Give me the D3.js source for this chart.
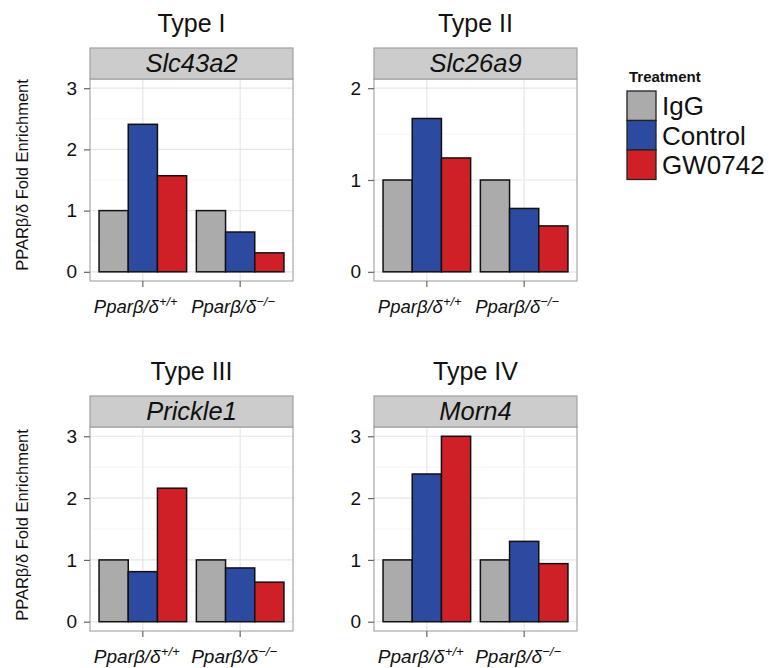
<!DOCTYPE html>
<html>
<head>
<meta charset="utf-8">
<script src="https://cdn.jsdelivr.net/npm/d3@7"></script>
<style>
  html, body { margin: 0; padding: 0; background: #fff; }
  svg { display: block; font-family: "Liberation Sans", Arial, Helvetica, sans-serif; }
</style>
</head>
<body>
<svg id="chart" width="769" height="668"></svg>
<script>
// ---------------- data ----------------
const panelTitles = ["Type I", "Type II", "Type III", "Type IV"];
const genes = ["Slc43a2", "Slc26a9", "Prickle1", "Morn4"];
const genotypeSup = ["+/+", "\u2212/\u2212"];      // Pparβ/δ superscripts
const treatments = ["IgG", "Control", "GW0742"];
// values: one row per genotype, columns = IgG, Control, GW0742
const slc43a2 = [[1, 2.41, 1.57], [1, 0.65, 0.31]];
const slc26a9 = [[1, 1.67, 1.24], [1, 0.69, 0.50]];
const prickle1 = [[1, 0.81, 2.16], [1, 0.87, 0.64]];
const morn4 = [[1, 2.39, 3.00], [1, 1.30, 0.94]];
const yTickValues = [[0, 1, 2, 3], [0, 1, 2], [0, 1, 2, 3], [0, 1, 2, 3]];
const yAxisTitle = "PPAR\u03b2/\u03b4 Fold Enrichment";
const legendTitle = "Treatment";
const colors = ["#ababab", "#2c4a9f", "#d02027"];

const geneValues = [slc43a2, slc26a9, prickle1, morn4];

// ---------------- layout ----------------
const colX = [[90, 293], [374, 577]];
const rows = [
  { stripTop: 48, panelTop: 79, panelBottom: 281, labelY: 313 , labelSize: 18.5},
  { stripTop: 396, panelTop: 427, panelBottom: 631, labelY: 663, labelSize: 19 }
];

const svg = d3.select("#chart");
const groups = ["wt", "ko"];

panelTitles.forEach((title, i) => {
  const col = i % 2, row = Math.floor(i / 2);
  const [x0L, x0R] = colX[col];
  const R = rows[row];
  const ticks = yTickValues[i];
  const maxT = d3.max(ticks);
  const expand = maxT * 0.05;

  const y = d3.scaleLinear().domain([-expand, maxT + expand]).range([R.panelBottom, R.panelTop]);
  const x0 = d3.scaleBand().domain(groups).range([x0L, x0R]).paddingInner(0.1).paddingOuter(0.093);
  const x1 = d3.scaleBand().domain(treatments).range([0, x0.bandwidth()]);

  const g = svg.append("g");

  // title
  g.append("text")
    .attr("x", (x0L + x0R) / 2).attr("y", R.stripTop - 16.5)
    .attr("text-anchor", "middle").attr("font-size", 25).attr("fill", "#111")
    .text(title);

  // panel background
  g.append("rect").attr("x", x0L).attr("y", R.panelTop)
    .attr("width", x0R - x0L).attr("height", R.panelBottom - R.panelTop).attr("fill", "#fff");

  // minor grid
  const minor = d3.range(0.5, maxT, 1);
  g.selectAll(".minor").data(minor).join("line")
    .attr("x1", x0L).attr("x2", x0R)
    .attr("y1", d => y(d)).attr("y2", d => y(d))
    .attr("stroke", "#f5f5f5").attr("stroke-width", 1);
  // major grid
  g.selectAll(".major").data(ticks).join("line")
    .attr("x1", x0L).attr("x2", x0R)
    .attr("y1", d => y(d)).attr("y2", d => y(d))
    .attr("stroke", "#e6e6e6").attr("stroke-width", 1.2);
  g.selectAll(".vmajor").data(groups).join("line")
    .attr("x1", d => x0(d) + x0.bandwidth() / 2).attr("x2", d => x0(d) + x0.bandwidth() / 2)
    .attr("y1", R.panelTop).attr("y2", R.panelBottom)
    .attr("stroke", "#e6e6e6").attr("stroke-width", 1.2);

  // bars
  const vals = geneValues[i];
  groups.forEach((gr, gi) => {
    g.selectAll(null).data(vals[gi]).join("rect")
      .attr("x", (d, k) => x0(gr) + x1(treatments[k]))
      .attr("width", x1.bandwidth())
      .attr("y", d => y(d))
      .attr("height", d => y(0) - y(d))
      .attr("fill", (d, k) => colors[k])
      .attr("stroke", "#111").attr("stroke-width", 1.5);
  });

  // panel border
  g.append("rect").attr("x", x0L).attr("y", R.panelTop)
    .attr("width", x0R - x0L).attr("height", R.panelBottom - R.panelTop)
    .attr("fill", "none").attr("stroke", "#a8a8a8").attr("stroke-width", 1.2);

  // strip
  g.append("rect").attr("x", x0L).attr("y", R.stripTop)
    .attr("width", x0R - x0L).attr("height", R.panelTop - R.stripTop)
    .attr("fill", "#cccccc").attr("stroke", "#a0a0a0").attr("stroke-width", 1.2);
  g.append("text")
    .attr("x", (x0L + x0R) / 2).attr("y", (R.stripTop + R.panelTop) / 2 + 8.5)
    .attr("text-anchor", "middle").attr("font-size", 25.5).attr("font-style", "italic")
    .attr("fill", "#111").text(genes[i]);

  // y axis
  const yAxis = g.append("g").attr("transform", `translate(${x0L},0)`)
    .call(d3.axisLeft(y).tickValues(ticks).tickFormat(d3.format("d")).tickSize(6).tickPadding(7));
  yAxis.select(".domain").remove();
  yAxis.selectAll(".tick line").attr("stroke", "#666").attr("stroke-width", 1.2);
  yAxis.selectAll(".tick text").attr("font-size", 19).attr("fill", "#111")
    .attr("font-family", "Liberation Sans, Arial, sans-serif");

  // x axis ticks
  const xAxis = g.append("g").attr("transform", `translate(0,${R.panelBottom})`)
    .call(d3.axisBottom(x0).tickSize(6).tickFormat(""));
  xAxis.select(".domain").remove();
  xAxis.selectAll(".tick line").attr("stroke", "#666").attr("stroke-width", 1.2);

  // x labels
  groups.forEach((gr, gi) => {
    const cx = x0(gr) + x0.bandwidth() / 2;
    const t = g.append("text")
      .attr("x", cx - 49).attr("y", R.labelY)
      .attr("font-size", R.labelSize).attr("font-style", "italic").attr("fill", "#111");
    t.append("tspan").text("Ppar\u03b2/\u03b4");
    t.append("tspan").attr("dy", -7).attr("font-size", R.labelSize * 0.7).text(genotypeSup[gi]);
  });

  // y axis title (left column only)
  if (col === 0) {
    const cy = row === 0 ? 175 : 525;
    svg.append("text")
      .attr("transform", `translate(28,${cy}) rotate(-90)`)
      .attr("text-anchor", "middle").attr("font-size", 16.5).attr("fill", "#111")
      .text(yAxisTitle);
  }
});

// ---------------- legend ----------------
const leg = svg.append("g");
leg.append("text").attr("x", 629).attr("y", 81.5)
  .attr("font-size", 15).attr("font-weight", "bold").attr("fill", "#111").text(legendTitle);
const keyY = d3.scaleBand().domain(treatments).range([91, 179.5]);
leg.selectAll(".key").data(treatments).join("rect")
  .attr("x", 627).attr("y", d => keyY(d))
  .attr("width", 29).attr("height", keyY.bandwidth())
  .attr("fill", (d, k) => colors[k]).attr("stroke", "#222").attr("stroke-width", 1.3);
leg.selectAll(".lab").data(treatments).join("text")
  .attr("x", 662).attr("y", d => keyY(d) + keyY.bandwidth() / 2 + 9.3)
  .attr("font-size", 26).attr("fill", "#111").text(d => d);
</script>
</body>
</html>
